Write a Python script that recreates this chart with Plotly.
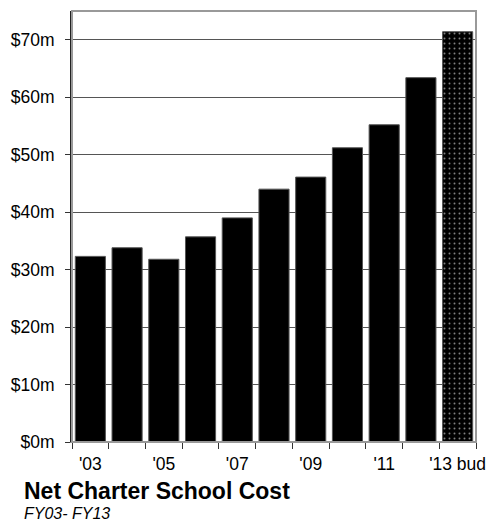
import plotly.graph_objects as go

categories = ["03", "04", "05", "06", "07", "08", "09", "10", "11", "12", "13 bud"]
values = [32.3, 33.8, 31.8, 35.7, 39.0, 44.0, 46.1, 51.2, 55.2, 63.4, 71.4]
tick_labels = ["'03", "", "'05", "", "'07", "", "'09", "", "'11", "", "'13 bud"]
budget_flags = [False] * 10 + [True]

fig = go.Figure()
fig.add_trace(go.Bar(
    x=categories,
    y=values,
    marker=dict(
        color="black",
        line=dict(color="#555555", width=1),
        pattern=dict(
            shape=["." if b else "" for b in budget_flags],
            fgcolor="white",
            bgcolor="black",
            size=5,
            solidity=0.12,
            fillmode="overlay",
        ),
    ),
    showlegend=False,
))

fig.update_layout(
    width=487, height=521,
    margin=dict(l=72, r=11, t=11, b=79),
    paper_bgcolor="white", plot_bgcolor="white",
    bargap=0.18,
    font=dict(family="Liberation Sans, Arial, sans-serif", color="black", size=17.5),
    xaxis=dict(
        type="category",
        tickmode="array",
        tickvals=categories,
        ticktext=tick_labels,
        tickson="boundaries",
        tickangle=0,
        ticks="outside", ticklen=6, tickcolor="#333333",
        ticklabelstandoff=6,
        showline=True, linecolor="#888888", linewidth=1,
        showgrid=False,
        automargin=False,
        tickfont=dict(size=17.5),
    ),
    yaxis=dict(
        range=[0, 75],
        dtick=10,
        tickprefix="$", ticksuffix="m",
        ticks="outside", ticklen=5, tickcolor="#333333",
        ticklabelstandoff=7,
        showline=True, linecolor="#222222", linewidth=2,
        showgrid=True, gridcolor="#555555", gridwidth=1,
        zeroline=False,
        automargin=False,
        tickfont=dict(size=17.5),
    ),
    shapes=[dict(type="rect", xref="paper", yref="paper", x0=0, x1=1, y0=0, y1=1,
                 line=dict(color="#999999", width=2), layer="above")],
    annotations=[
        dict(text="<b>Net Charter School Cost</b>", xref="paper", yref="paper",
             x=(22 - 72) / 404, y=(442 - 490.5) / 431, xanchor="left", yanchor="middle",
             showarrow=False, font=dict(size=23)),
        dict(text="<i>FY03- FY13</i>", xref="paper", yref="paper",
             x=(22 - 72) / 404, y=(442 - 513) / 431, xanchor="left", yanchor="middle",
             showarrow=False, font=dict(size=16)),
    ],
)

fig.write_html("out.html")
